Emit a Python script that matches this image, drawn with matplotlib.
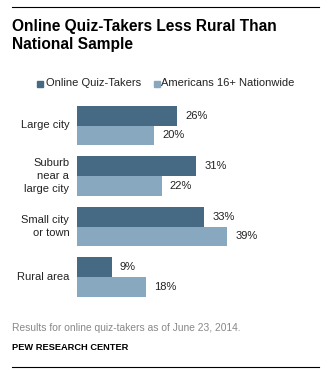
import matplotlib
matplotlib.use("Agg")
import matplotlib.pyplot as plt
import numpy as np

# data
categories = ["Large city", "Suburb\nnear a\nlarge city", "Small city\nor town", "Rural area"]
quiz_takers = [26, 31, 33, 9]
nationwide = [20, 22, 39, 18]
series_names = ["Online Quiz-Takers", "Americans 16+ Nationwide"]

dark = "#466a84"
light = "#87a8be"
W, H = 329, 370

plt.rcParams['font.family'] = ['Liberation Sans', 'DejaVu Sans']

fig = plt.figure(figsize=(W / 100, H / 100), dpi=100)

def fx(px):
    return px / W

def fy(py):
    return 1 - py / H

# axes: x 0..60 over 77..308 px, groups 50.5 px apart
ax = fig.add_axes([fx(77), fy(302.25), fx(231), 202 / H])
y = np.arange(len(categories))
bh = 0.396
ax.barh(y - bh / 2, quiz_takers, height=bh, color=dark)
ax.barh(y + bh / 2, nationwide, height=bh, color=light)
ax.set_xlim(0, 60)
ax.set_ylim(3.5, -0.5)
ax.axis('off')

for i in range(len(categories)):
    ax.text(quiz_takers[i] + 2.1, y[i] - bh / 2, f"{quiz_takers[i]}%", va='center', ha='left',
            fontsize=8, color='#222222')
    ax.text(nationwide[i] + 2.1, y[i] + bh / 2, f"{nationwide[i]}%", va='center', ha='left',
            fontsize=8, color='#222222')
    ax.text(-2, y[i], categories[i], va='center', ha='right', fontsize=8, color='#222222',
            linespacing=1.4)

# top / bottom rules
fig.add_artist(plt.Line2D([fx(12), fx(319)], [fy(7), fy(7)], color='black', lw=0.8))
fig.add_artist(plt.Line2D([fx(12), fx(319)], [fy(367), fy(367)], color='black', lw=0.8))

# title
fig.text(fx(12), fy(19), "Online Quiz-Takers Less Rural Than\nNational Sample", ha='left', va='top',
         fontsize=11.2, fontweight='bold', color='black', linespacing=1.25)

# legend
fig.patches.append(plt.Rectangle((fx(37), fy(87)), fx(6), 6 / H, color=dark, transform=fig.transFigure))
fig.text(fx(46), fy(83), series_names[0], ha='left', va='center', fontsize=8, color='#222222')
fig.patches.append(plt.Rectangle((fx(154), fy(87)), fx(6), 6 / H, color=light, transform=fig.transFigure))
fig.text(fx(161), fy(83), series_names[1], ha='left', va='center', fontsize=8, color='#222222')

# notes
fig.text(fx(12), fy(328), "Results for online quiz-takers as of June 23, 2014.", ha='left', va='center',
         fontsize=7.4, color='#888888')
fig.text(fx(12), fy(347), "PEW RESEARCH CENTER", ha='left', va='center',
         fontsize=6.7, fontweight='bold', color='black')

fig.savefig("out.png", dpi=100)
